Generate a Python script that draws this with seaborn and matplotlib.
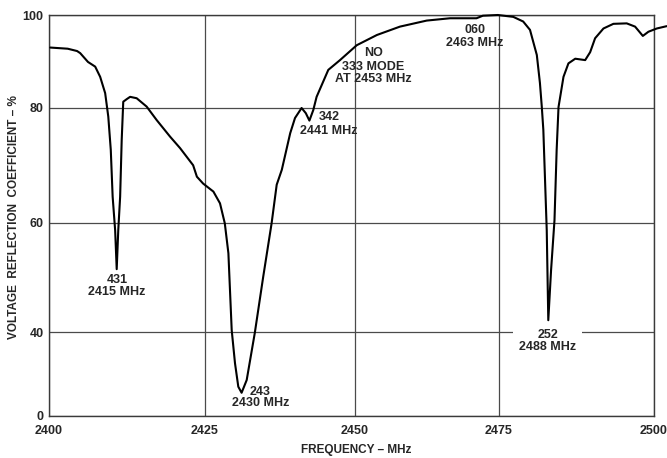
import numpy as np
import pandas as pd
import matplotlib
matplotlib.use("Agg")
import matplotlib.pyplot as plt
import seaborn as sns

sns.set_style("white")
plt.rcParams['font.family'] = ['Liberation Sans', 'DejaVu Sans']

# Trace (frequency in MHz, reflection coefficient in %)
freq = [2400.2, 2403.0, 2404.5, 2405.0, 2406.25, 2407.4, 2408.2, 2409.0, 2409.5, 2409.9,
        2410.2, 2410.6, 2410.85, 2411.1, 2411.4, 2411.65, 2411.9, 2412.45, 2413.0, 2414.05,
        2415.65, 2417.25, 2419.4, 2421.0, 2423.1, 2423.7, 2424.7, 2426.4, 2427.5, 2428.3,
        2428.9, 2429.45, 2430.0, 2430.55, 2431.1, 2431.95, 2433.3, 2434.7, 2436.1, 2436.95,
        2437.8, 2439.2, 2440.0, 2441.1, 2441.8, 2442.4, 2443.05, 2443.6, 2445.55, 2447.5,
        2450.3, 2453.8, 2457.8, 2462.45, 2466.5, 2468.75, 2471.1, 2472.2, 2474.8, 2477.3,
        2478.9, 2480.0, 2481.1, 2481.6, 2481.9, 2482.15, 2482.7, 2482.95, 2483.4, 2483.95,
        2484.3, 2484.6, 2485.4, 2486.2, 2487.3, 2488.9, 2489.7, 2490.5, 2491.85, 2493.45,
        2495.6, 2496.95, 2498.2, 2499.1, 2500.45, 2502.05]
coeff = [93.0, 92.75, 92.25, 91.8, 89.9, 88.9, 86.7, 83.2, 78.5, 72.7,
         64.5, 58.6, 51.5, 58.6, 64.5, 74.4, 81.35, 81.9, 82.4, 82.1,
         80.3, 77.9, 75.0, 73.0, 70.0, 68.0, 66.8, 65.4, 63.35, 59.85,
         54.4, 40.4, 25.2, 14.0, 11.1, 17.2, 39.7, 50.1, 59.85, 66.6,
         69.2, 75.6, 78.25, 80.0, 79.1, 77.8, 79.65, 82.4, 88.2, 90.3,
         93.5, 95.7, 97.5, 98.8, 99.3, 99.3, 99.3, 99.85, 100.0, 99.6,
         98.6, 96.8, 91.4, 85.4, 80.3, 76.2, 58.6, 42.2, 51.35, 60.4,
         72.7, 80.2, 86.7, 89.6, 90.6, 90.3, 92.0, 95.0, 97.1, 98.1,
         98.2, 97.5, 95.5, 96.4, 97.1, 97.6]

x_ticks = [2400, 2425, 2450, 2475, 2500]
y_ticks = [0, 40, 60, 80, 100]

# the chart paper is not evenly ruled: pixel offset of each rule from the frame corner
x_rule = [0, 156, 306, 450, 605]
y_rule = [0, 83.7, 193.5, 308, 401]

# mode labels: (text, pixel x, pixel y, alignment)
labels = [
    ("431", 117, 280, "center"), ("2415 MHz", 117, 292, "center"),
    ("243", 250, 392, "left"), ("2430 MHz", 261, 403, "center"),
    ("342", 319, 117, "left"), ("2441 MHz", 328.5, 131, "center"),
    ("NO", 374, 53, "center"), ("333 MODE", 373, 67, "center"),
    ("AT 2453 MHz", 373, 79, "center"),
    ("060", 475, 30, "center"), ("2463 MHz", 475, 43, "center"),
]


def ruled_scale(vals, pos):
    vals = np.asarray(vals, float)
    pos = np.asarray(pos, float)

    def stretch(v, a, b):
        v = np.asarray(v, float)
        out = np.interp(v, a, b)
        lo = (b[1] - b[0]) / (a[1] - a[0])
        hi = (b[-1] - b[-2]) / (a[-1] - a[-2])
        out = np.where(v < a[0], b[0] + (v - a[0]) * lo, out)
        out = np.where(v > a[-1], b[-1] + (v - a[-1]) * hi, out)
        return out

    return (lambda v: stretch(v, vals, pos)), (lambda p: stretch(p, pos, vals))


W, H = 667, 458
fig = plt.figure(figsize=(W / 100, H / 100), dpi=100)
ax = fig.add_axes([49 / W, 1 - 416 / H, 605 / W, 401 / H])

df = pd.DataFrame({"freq": freq, "coeff": coeff})
sns.lineplot(data=df, x="freq", y="coeff", ax=ax, color="black", lw=1.5,
             clip_on=False, zorder=3, solid_joinstyle="round",
             solid_capstyle="round")

ax.set_xscale("function", functions=ruled_scale(x_ticks, x_rule))
ax.set_yscale("function", functions=ruled_scale(y_ticks, y_rule))
ax.set_xlim(2400, 2500)
ax.set_ylim(0, 100)
ax.set_xticks(x_ticks)
ax.set_yticks(y_ticks)
ax.set_xticklabels([str(t) for t in x_ticks])
ax.set_yticklabels([str(t) for t in y_ticks])
ax.minorticks_off()
ax.set_xlabel("")
ax.set_ylabel("")
ax.tick_params(axis="x", length=0, pad=6.5, labelsize=9)
ax.tick_params(axis="y", length=0, pad=4, labelsize=9)
for t in ax.get_xticklabels() + ax.get_yticklabels():
    t.set_fontweight("bold")

ax.grid(True, color="#4a4a4a", lw=0.9)
ax.set_axisbelow(True)
for s in ax.spines.values():
    s.set_color("#3a3a3a")
    s.set_linewidth(1.0)

for txt, px, py, ha in labels:
    fig.text(px / W, 1 - py / H, txt, ha=ha, va="center", fontsize=9,
             fontweight="bold")

# 252 label sits on the 40 % rule, which is broken around it
fig.text(547.5 / W, 1 - 341 / H, "252\n2488 MHz", ha="center", va="center",
         fontsize=9, fontweight="bold", linespacing=1.0,
         bbox=dict(fc="white", ec="none", pad=4))

fig.text(356 / W, 1 - 450 / H, "FREQUENCY – MHz", ha="center", va="center",
         fontsize=8.5, fontweight="bold")
fig.text(14 / W, 1 - 217 / H, "VOLTAGE  REFLECTION  COEFFICIENT – %",
         ha="center", va="center", rotation=90, fontsize=8.5, fontweight="bold")

fig.savefig("out.png", dpi=100)
